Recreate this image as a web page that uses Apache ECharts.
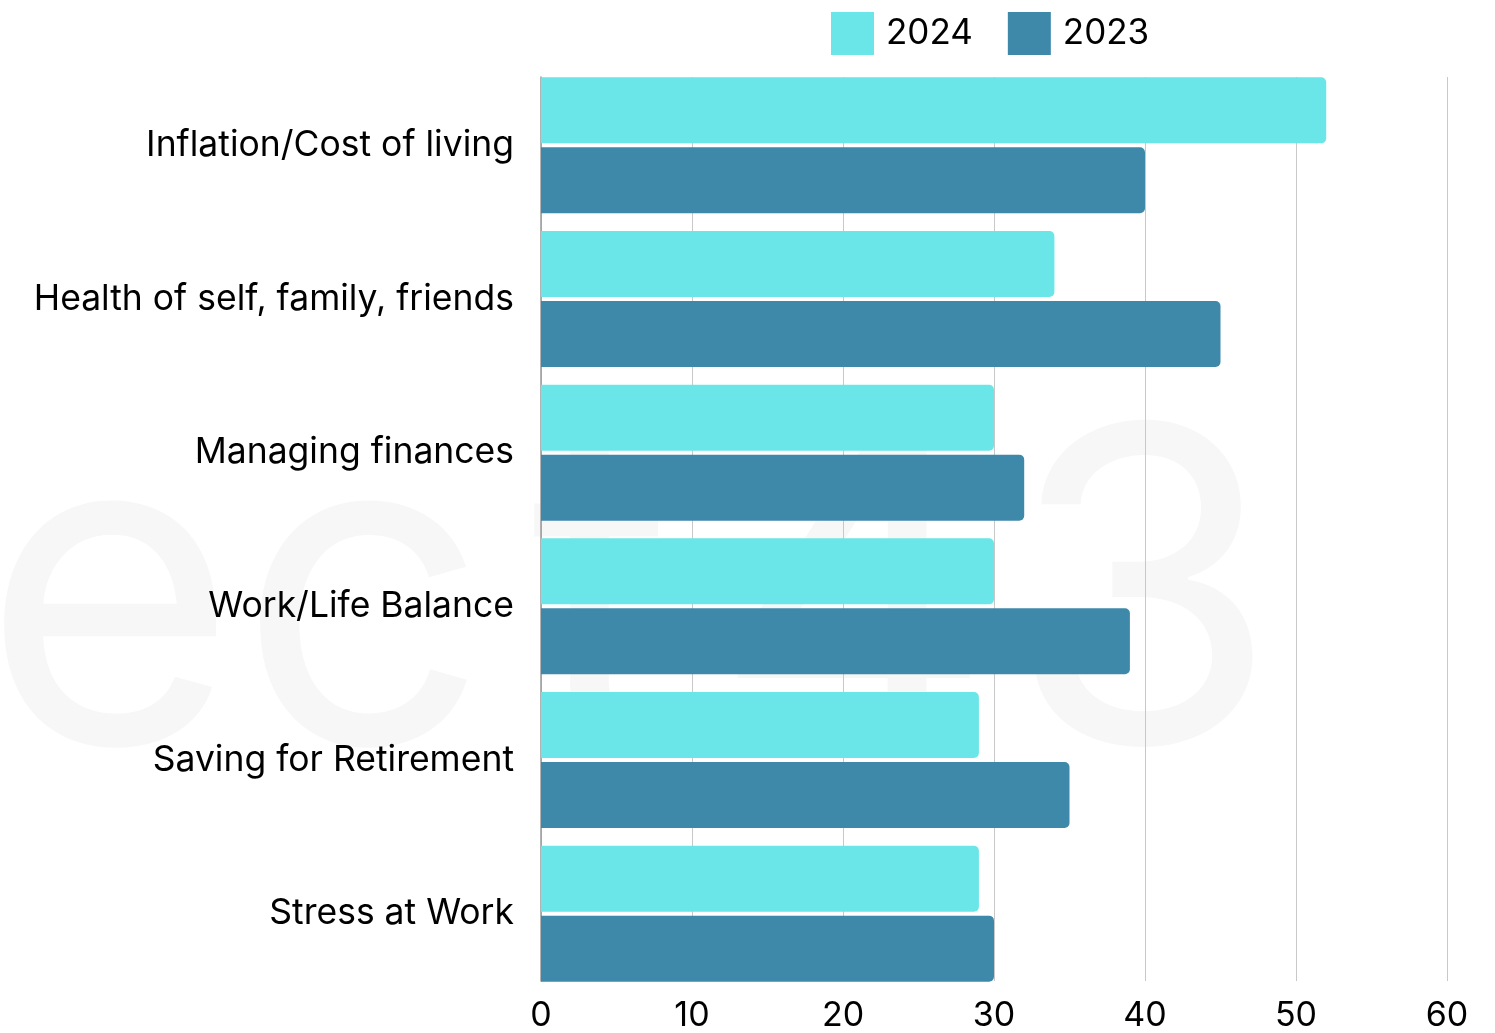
<!DOCTYPE html>
<html>
<head>
<meta charset="utf-8">
<title>Top concerns, 2024 vs 2023</title>
<script src="https://cdn.jsdelivr.net/npm/echarts@6/dist/echarts.min.js"></script>
<style>
  html, body { margin: 0; padding: 0; background: #ffffff; }
  #chart { width: 1495px; height: 1033px; }
</style>
</head>
<body>
<div id="chart"></div>
<script>
// Concern categories, top to bottom
const categories = [
  'Inflation/Cost of living',
  'Health of self, family, friends',
  'Managing finances',
  'Work/Life Balance',
  'Saving for Retirement',
  'Stress at Work'
];
// Share of respondents (%) per year
const values2024 = [52, 34, 30, 30, 29, 29];
const values2023 = [40, 45, 32, 39, 35, 30];
// Value axis ticks
const xTicks = [0, 10, 20, 30, 40, 50, 60];

const FONT = 'Inter, "Noto Sans", sans-serif';
const chart = echarts.init(document.getElementById('chart'), null, { renderer: 'canvas' });

// faint background mark, one glyph per element so each can be spaced
const markGlyphs = [
  { ch: 'e', left: -18 },
  { ch: 'c', left: 238 },
  { ch: 't', left: 530 },
  { ch: '4', left: 712 },
  { ch: '3', left: 1008 }
];
const markGraphics = markGlyphs.map(g => ({
  type: 'text',
  z: -10,
  silent: true,
  left: g.left,
  top: 392,
  style: { text: g.ch, font: '438px ' + FONT, fill: '#f7f7f7' }
}));

chart.setOption({
  backgroundColor: '#ffffff',
  animation: false,
  textStyle: { fontFamily: FONT },
  graphic: markGraphics,
  legend: {
    data: ['2024', '2023'],
    left: 826,
    top: 7,
    icon: 'rect',
    itemWidth: 43,
    itemHeight: 43,
    itemGap: 35,
    textStyle: { fontSize: 35, color: '#000', fontFamily: FONT, padding: [0, 0, 0, 7] }
  },
  grid: [
    // frame: grid lines, value labels and the baseline
    { left: 541, right: 48, top: 77, bottom: 51 },
    // bars and category labels
    { left: 541, right: 48, top: 68.5, bottom: 42.5 }
  ],
  xAxis: [
    {
      gridIndex: 0,
      type: 'value',
      min: xTicks[0],
      max: xTicks[xTicks.length - 1],
      interval: xTicks[1] - xTicks[0],
      axisLine: { show: false },
      axisTick: { show: false },
      splitLine: { show: true, lineStyle: { color: '#c8c8c8', width: 1 } },
      axisLabel: { fontSize: 34, color: '#000', margin: 18, fontFamily: FONT }
    },
    {
      gridIndex: 1,
      type: 'value',
      min: xTicks[0],
      max: xTicks[xTicks.length - 1],
      show: false
    }
  ],
  yAxis: [
    {
      gridIndex: 0,
      type: 'category',
      data: categories,
      inverse: true,
      axisLine: { show: true, lineStyle: { color: '#9a9a9a', width: 1.5 } },
      axisTick: { show: false },
      axisLabel: { show: false },
      splitLine: { show: false }
    },
    {
      gridIndex: 1,
      type: 'category',
      data: categories,
      inverse: true,
      axisLine: { show: false },
      axisTick: { show: false },
      axisLabel: { fontSize: 35.5, color: '#000', margin: 27, fontFamily: FONT }
    }
  ],
  series: [
    {
      name: '2024',
      type: 'bar',
      xAxisIndex: 1,
      yAxisIndex: 1,
      data: values2024,
      barWidth: 66,
      barGap: '6%',
      itemStyle: { color: '#6be6e8', borderRadius: [0, 5, 5, 0] }
    },
    {
      name: '2023',
      type: 'bar',
      xAxisIndex: 1,
      yAxisIndex: 1,
      data: values2023,
      barWidth: 66,
      barGap: '6%',
      itemStyle: { color: '#3e89a9', borderRadius: [0, 5, 5, 0] }
    }
  ]
});
</script>
</body>
</html>
